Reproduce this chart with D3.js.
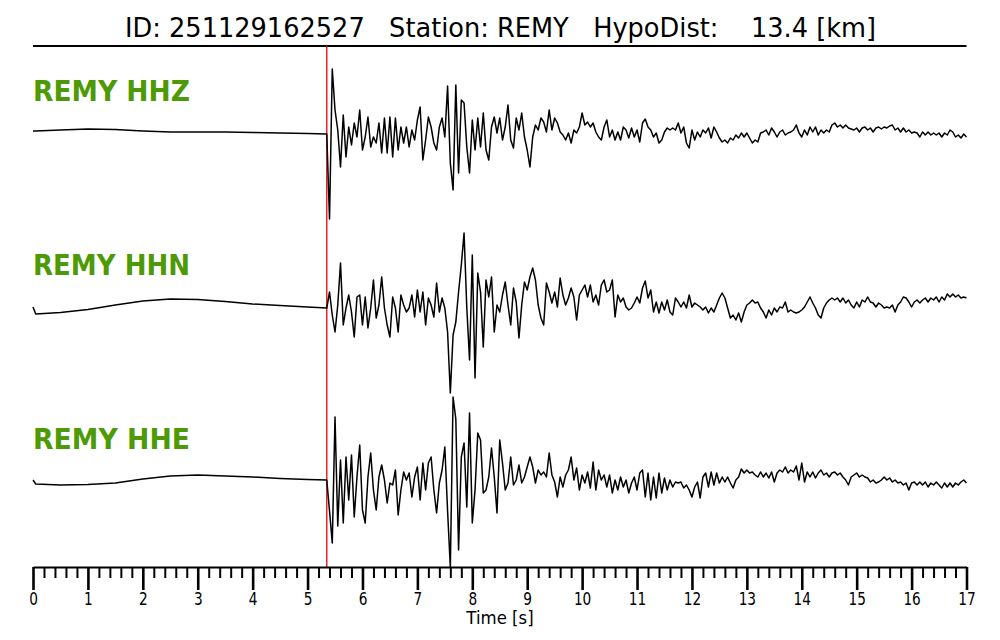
<!DOCTYPE html>
<html><head><meta charset="utf-8">
<script src="https://cdn.jsdelivr.net/npm/d3@7"></script>
<style>html,body{margin:0;padding:0;background:#fff;} svg{display:block;}</style>
</head><body><svg id="chart" width="1000" height="640"></svg>
<script>
// ---------------- data ----------------
const titleText = "ID: 251129162527   Station: REMY   HypoDist:    13.4 [km]";
const channels = ["REMY HHZ", "REMY HHN", "REMY HHE"];
const pickTime = 5.35;           // P pick (red line), seconds
const timeDomain = [0, 17];
const majorTicks = [0,1,2,3,4,5,6,7,8,9,10,11,12,13,14,15,16,17];
const minorStep = 0.2;
const axisLabel = "Time [s]";

// pre-event (quiet) samples, seconds
const preTimes = [0, 0.05, 0.5, 1.0, 1.5, 2.0, 2.5, 3.0, 3.5, 4.0, 4.5, 5.0];
const hhzPre = [2, 2, 3, 4, 3.5, 2, 1, 1, 1, 0.5, 0, -0.5];
const hhnPre = [0, -7, -5.5, -2.5, 2, 6, 8, 7.5, 5.5, 3, 1.5, 0];
const hhePre = [1, -3, -4, -3.5, -2, 2, 5, 6, 5, 4, 2.5, 1.5];

// event samples from onsetTime every sampleStep seconds (normalized amplitude)
const onsetTime = 5.35;
const sampleStep = 0.05;
const hhzEvent = [
 -1,-86,64,23,3,-34,18,-24,6,-12,
 10,-4,23,-17,-4,16,-14,-4,-10,10,
 -20,15,-20,16,-24,15,-17,6,-10,6,
 -14,3,-7,13,26,-27,-7,16,6,-10,
 -17,6,15,-4,47,-30,-57,48,-40,33,
 30,-14,-40,13,-17,15,-14,20,-17,-27,
 6,16,0,15,-7,6,28,-7,-15,15,
 3,20,-4,-17,-34,-4,8,3,15,11,
 1,23,3,15,10,1,-2,-7,0,-10,
 3,0,6,20,8,11,6,10,1,-4,
 -7,6,13,-4,3,-7,1,-7,6,3,
 -5,5,-4,3,-9,10,14,6,3,-4,
 0,-10,-7,1,5,3,5,3,10,0,
 6,-10,-15,3,-7,1,-4,3,0,5,
 -5,6,1,-5,-9,-7,-10,-5,-7,-2,
 -5,0,-4,0,-5,-10,-7,-9,0,1,
 3,-2,5,1,-4,1,3,-2,0,1,
 3,8,0,-4,3,-2,6,1,6,-2,
 3,0,3,1,8,10,6,8,5,8,
 5,4,3,5,1,5,6,3,5,1,
 5,6,4,6,5,7,8,3,5,1,
 5,1,3,0,1,0,-4,1,-2,1,
 -2,0,-2,0,-4,0,-2,3,1,-4,
 -2,-5,-1,-4
];
const hhnEvent = [
 -1,15,-8,-25,2,44,-18,-1,12,-5,
 -30,10,12,-18,10,-21,-1,27,-11,2,
 30,-1,-18,-30,10,-1,-25,12,2,-5,
 -1,12,-10,17,-5,15,-18,9,2,-10,
 24,-5,9,-1,-25,-86,-28,-15,15,42,
 74,-1,-53,52,-71,34,15,-40,27,10,
 30,-25,2,-5,12,25,2,-18,19,5,
 -31,2,25,17,30,39,27,2,-11,-18,
 24,15,4,15,0,29,12,2,9,19,
 10,-13,12,17,22,10,22,5,12,2,
 22,27,15,17,27,-10,12,5,9,0,
 -3,-1,4,10,4,19,26,9,17,-5,
 5,-6,5,-3,7,-5,-8,9,5,0,
 5,-1,12,0,4,2,0,-3,0,-6,
 -1,-5,2,9,14,9,-1,-11,-8,-13,
 -6,-15,-5,2,4,7,4,5,-1,-5,
 -11,-3,-8,-1,-5,0,-1,5,-5,-3,
 -5,-6,-5,-3,0,5,10,4,-1,-8,
 -11,-1,4,7,9,7,9,5,9,4,
 7,2,-1,5,0,7,5,10,5,4,
 0,4,2,-1,0,-1,2,-5,2,5,
 10,9,5,0,5,7,4,7,9,5,
 9,7,10,5,10,7,13,10,13,10,
 12,9,10,9
];
const hheEvent = [
 1,-30,-62,64,-45,21,-42,24,-19,26,
 -36,4,36,-29,-42,4,28,-9,-29,4,
 16,1,-22,-2,-4,11,-34,-9,9,1,
 8,-16,4,14,-19,18,-9,18,24,-9,
 -32,-2,11,34,-30,-86,84,62,-69,24,
 38,-26,68,-42,-9,48,41,-12,-9,4,
 33,4,-32,41,18,-9,-2,24,-4,1,
 16,-2,4,14,24,14,-2,11,6,9,
 4,28,6,-1,-16,4,-6,6,11,24,
 1,13,-9,6,-2,9,-7,19,-9,11,
 1,6,-6,6,-12,1,-9,4,-6,1,
 -12,-2,4,-9,8,11,-16,8,-19,4,
 -17,8,-12,3,-9,1,-6,-1,-2,-1,
 -7,-4,-9,-16,-6,-1,-17,4,8,-6,
 9,-4,8,-2,4,-1,4,-2,-7,1,
 4,12,8,11,8,9,6,4,9,4,
 8,3,9,-1,8,11,9,14,8,11,
 9,15,1,18,-1,9,4,9,3,8,
 11,6,8,4,8,9,6,8,4,1,
 -4,4,6,8,4,6,4,3,-1,1,
 -2,-1,1,4,1,3,-1,1,-2,-1,
 -4,-2,-9,-2,-1,-4,-1,-4,-1,-6,
 -2,-4,-1,-4,-7,-2,-6,-2,-6,-2,
 -4,-1,1,-2
];
const preSeries = [hhzPre, hhnPre, hhePre];
const eventSeries = [hhzEvent, hhnEvent, hheEvent];

// ---------------- drawing ----------------
const svg = d3.select("#chart");
const x = d3.scaleLinear().domain(timeDomain).range([33, 966.5]);
const rowCenter = d3.scaleLinear().domain([0, 2]).range([133, 481]);
const ampHalf = 87;

// title
svg.append("text")
  .attr("x", 500.5).attr("y", 37)
  .attr("text-anchor", "middle")
  .attr("xml:space", "preserve")
  .style("white-space", "pre")
  .attr("font-family", "DejaVu Sans")
  .attr("font-size", 26)
  .attr("textLength", 751).attr("lengthAdjust", "spacingAndGlyphs")
  .attr("fill", "#000")
  .text(titleText);

svg.append("line")
  .attr("x1", x(timeDomain[0])).attr("x2", x(timeDomain[1]))
  .attr("y1", 46).attr("y2", 46)
  .attr("stroke", "#000").attr("stroke-width", 2);

// pick line
svg.append("line")
  .attr("x1", x(pickTime)).attr("x2", x(pickTime))
  .attr("y1", 46).attr("y2", 567)
  .attr("stroke", "#e8141b").attr("stroke-width", 1.4);

// traces
channels.forEach((name, k) => {
  const c = rowCenter(k);
  const y = d3.scaleLinear().domain([-ampHalf, ampHalf]).range([c + ampHalf, c - ampHalf]);
  const pts = preTimes.map((t, j) => [t, preSeries[k][j]])
    .concat(eventSeries[k].map((v, i) => [onsetTime + i * sampleStep, v]));
  svg.append("path")
    .datum(pts)
    .attr("fill", "none")
    .attr("stroke", "#000")
    .attr("stroke-width", 1.5)
    .attr("stroke-linejoin", "round")
    .attr("d", d3.line().x(d => x(d[0])).y(d => y(d[1])));

  svg.append("text")
    .attr("x", 33).attr("y", c - 32.3)
    .attr("font-family", "DejaVu Sans")
    .attr("font-weight", "bold")
    .attr("font-size", 29)
    .attr("textLength", 157).attr("lengthAdjust", "spacingAndGlyphs")
    .attr("fill", "#4e9a06")
    .text(name);
});

// axis
const axisY = 567;
const minorTicks = d3.range(timeDomain[0], timeDomain[1] + 1e-9, minorStep)
  .filter(t => Math.abs(t - Math.round(t)) > 1e-6);
const gMinor = svg.append("g").attr("transform", `translate(0,${axisY})`)
  .call(d3.axisBottom(x).tickValues(minorTicks).tickSize(11).tickSizeOuter(0).tickFormat(""));
gMinor.select(".domain").remove();
gMinor.selectAll(".tick line").attr("stroke", "#000").attr("stroke-width", 2);

const gMajor = svg.append("g").attr("transform", `translate(0,${axisY})`)
  .call(d3.axisBottom(x).tickValues(majorTicks).tickSize(23).tickSizeOuter(0).tickPadding(2).tickFormat(d3.format("d")));
gMajor.select(".domain").attr("stroke", "#000").attr("stroke-width", 2.2);
gMajor.selectAll(".tick line").attr("stroke", "#000").attr("stroke-width", 2.6);
gMajor.selectAll(".tick text")
  .attr("font-family", "DejaVu Sans").attr("font-size", 18)
  .attr("fill", "#000")
  .attr("transform", "scale(0.76,1)");

svg.append("text")
  .attr("x", 500).attr("y", 624)
  .attr("text-anchor", "middle")
  .attr("font-family", "DejaVu Sans")
  .attr("font-size", 18)
  .attr("transform", "translate(500,0) scale(0.92,1) translate(-500,0)")
  .text(axisLabel);
</script>
</body></html>
